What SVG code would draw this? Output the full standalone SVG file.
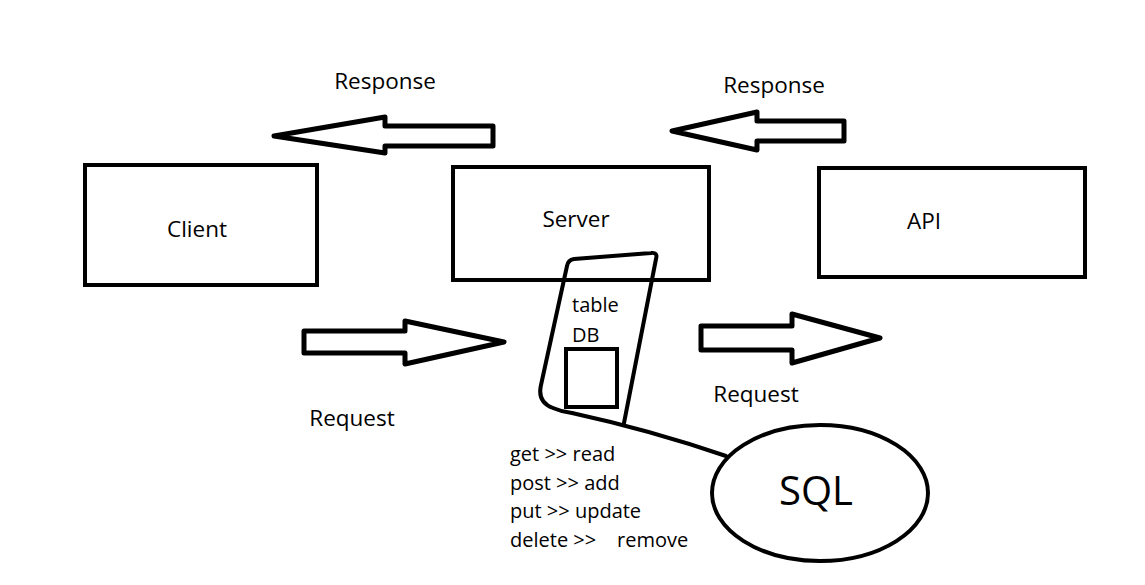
<svg xmlns="http://www.w3.org/2000/svg" width="1145" height="585" viewBox="0 0 1145 585">
<style>
.bg{fill:#ffffff}
.box{fill:#ffffff;stroke:#000;stroke-width:4}
.arr{fill:#ffffff;stroke:#000;stroke-width:5;stroke-linejoin:round}
.ln{fill:none;stroke:#000;stroke-width:4;stroke-linecap:round;stroke-linejoin:round}
text{font-family:"Open Sans","Noto Sans","Liberation Sans",sans-serif;fill:#000}
.lbl{font-size:22.5px}
.sm{font-size:20px}
.mid{text-anchor:middle}
</style>
<rect class="bg" x="0" y="0" width="1145" height="585"/>
<g id="connectors">
<g id="response-left">
<polygon class="arr" points="493,126 385,126 385,117 274,136 385,153 385,146 493,146"/>
<text class="lbl mid" x="385" y="89">Response</text>
</g>
<g id="response-right">
<polygon class="arr" points="844,121 757,121 757,112 672,131 757,150 757,141 844,141"/>
<text class="lbl mid" x="774" y="93">Response</text>
</g>
<g id="request-left">
<polygon class="arr" points="304,331 405,331 405,321 504,342 405,364 405,353 304,353"/>
<text class="lbl mid" x="352" y="426">Request</text>
</g>
<g id="request-right">
<polygon class="arr" points="701,326 792,326 792,314 880,338 792,363 792,350 701,350"/>
<text class="lbl mid" x="756" y="402">Request</text>
</g>
<path id="db-sql-link" class="ln" d="M572,413 Q650,430 726,456"/>
</g>
<g id="client">
<rect class="box" x="85" y="165" width="232" height="120"/>
<text class="lbl mid" x="197" y="237">Client</text>
</g>
<g id="server">
<rect class="box" x="453" y="167" width="256" height="113"/>
<text class="lbl mid" x="576" y="227">Server</text>
</g>
<g id="api">
<rect class="box" x="819" y="168" width="266" height="109"/>
<text class="lbl mid" x="924" y="229">API</text>
</g>
<g id="db">
<path class="ln" d="M624,423 L656,259 Q658,252 651,253 L574,259 Q568,260 567,266 L541,385 Q537,402 553,408 Q562,412 572,413"/>
<rect class="box" x="566" y="349" width="51" height="58"/>
<text class="sm" x="572" y="312">table</text>
<text class="sm" x="572" y="342">DB</text>
</g>
<g id="sql">
<ellipse cx="820" cy="493" rx="108" ry="68" fill="#ffffff" stroke="#000" stroke-width="4"/>
<text class="mid" x="816" y="505" font-size="40">SQL</text>
</g>
<g id="methods">
<text class="sm" x="510" y="461">get &gt;&gt; read</text>
<text class="sm" x="510" y="490">post &gt;&gt; add</text>
<text class="sm" x="510" y="518">put &gt;&gt; update</text>
<text class="sm" x="510" y="547">delete &gt;&gt;</text>
<text class="sm" x="617" y="547">remove</text>
</g>
</svg>
